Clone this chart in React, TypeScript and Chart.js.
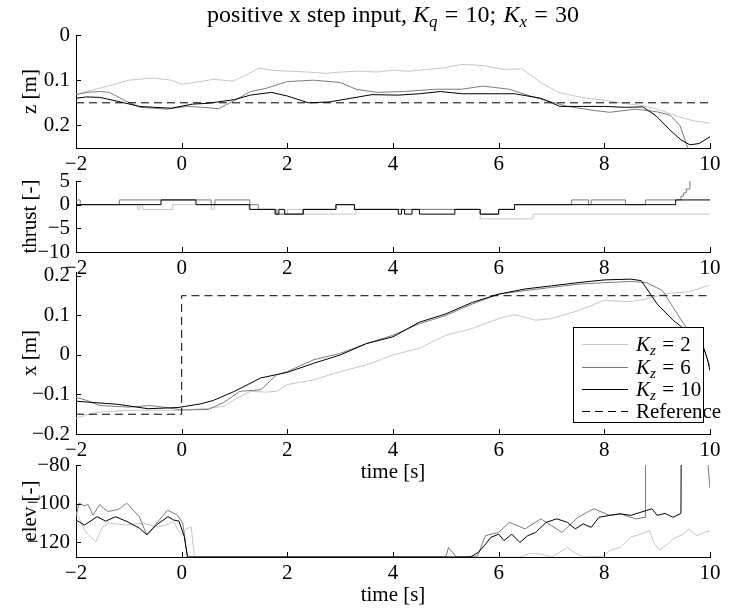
import React, { useEffect, useRef } from "react";
import { Chart, registerables } from "chart.js";

Chart.register(...registerables);

// ---------------- text / labels ----------------
const TITLE = "positive x step input, K_q = 10; K_x = 30";
const SERIES_LABELS = ["K_z = 2", "K_z = 6", "K_z = 10", "Reference"];
const X_TITLE = "time [s]";
const Y_TITLES = ["z [m]", "thrust [-]", "x [m]", "elev [-]"];

// ---------------- ticks ----------------
const X_TICKS = [-2, 0, 2, 4, 6, 8, 10];
const Z_TICKS = [0, 0.1, 0.2];
const TH_TICKS = [-10, -5, 0, 5];
const XP_TICKS = [-0.2, -0.1, 0, 0.1, 0.2];
const EL_TICKS = [-120, -100, -80];

// ---------------- z [m] ----------------
const Z_REF_T = [-2, 10];
const Z_REF_V = [0.15, 0.15];
const Z_K2_T = [-2, -1.7, -1.3, -1, -0.55, -0.2, 0, 0.3, 0.6, 0.97, 1.2, 1.46, 1.7, 2.03, 2.4, 2.74, 3.0, 3.36, 3.7, 4.0, 4.3, 4.68, 5.0, 5.3, 5.5, 5.73, 6.08, 6.44, 6.6, 6.79, 7.14, 7.4, 7.67, 8.03, 8.4, 8.73, 9.08, 9.43, 9.7, 10];
const Z_K2_V = [0.131, 0.122, 0.11, 0.1, 0.095, 0.1, 0.109, 0.104, 0.098, 0.102, 0.09, 0.073, 0.078, 0.08, 0.082, 0.085, 0.082, 0.08, 0.082, 0.078, 0.08, 0.076, 0.072, 0.065, 0.066, 0.068, 0.076, 0.075, 0.088, 0.105, 0.127, 0.134, 0.14, 0.145, 0.152, 0.156, 0.167, 0.182, 0.19, 0.195];
const Z_K6_T = [-2, -1.8, -1.55, -1.37, -1.04, -0.79, -0.28, 0.1, 0.4, 0.7, 1.0, 1.3, 1.6, 2.0, 2.5, 3.0, 3.3, 3.7, 4.2, 4.8, 5.3, 5.7, 6.2, 6.6, 7.0, 7.3, 7.8, 8.1, 8.6, 9.0, 9.24, 9.43, 9.58, 9.7];
const Z_K6_V = [0.132, 0.127, 0.125, 0.127, 0.147, 0.16, 0.164, 0.158, 0.16, 0.163, 0.145, 0.125, 0.118, 0.103, 0.1, 0.105, 0.12, 0.127, 0.125, 0.12, 0.12, 0.113, 0.12, 0.135, 0.148, 0.158, 0.167, 0.171, 0.164, 0.17, 0.177, 0.2, 0.25, 0.28];
const Z_K10_T = [-2, -1.8, -1.55, -1.2, -0.8, -0.2, 0.2, 0.5, 1.0, 1.3, 1.7, 2.0, 2.4, 2.8, 3.2, 3.6, 4.1, 4.5, 4.9, 5.3, 5.8, 6.3, 6.8, 7.16, 7.6, 8.0, 8.4, 8.73, 8.99, 9.24, 9.45, 9.62, 9.8, 10];
const Z_K10_V = [0.14, 0.137, 0.138, 0.147, 0.158, 0.162, 0.153, 0.151, 0.143, 0.133, 0.127, 0.135, 0.15, 0.148, 0.14, 0.132, 0.133, 0.13, 0.125, 0.13, 0.13, 0.13, 0.14, 0.158, 0.158, 0.158, 0.16, 0.159, 0.18, 0.21, 0.232, 0.243, 0.24, 0.225];

// ---------------- thrust [-] (step changes) ----------------
const TH_K2_T = [-2, -0.83, -0.79, -0.74, -0.17, 0.56, 0.62, 1.27, 1.75, 2.0, 2.3, 3.3, 5.65, 6.65, 10];
const TH_K2_V = [0, -1, 0, -1, 0, -1, 0, -1, -2, -1, -2, -1, -3, -2, -2];
const TH_K6_T = [-2, -1.92, -1.18, 0.56, 0.63, 1.29, 1.45, 1.8, 2.3, 2.92, 3.27, 5.65, 6.0, 6.3, 7.38, 7.7, 7.75, 8.4, 8.78, 9.38, 9.45, 9.5, 9.55, 9.62, 9.7];
const TH_K6_V = [1, 0, 1, 0, 1, 0, -1, -2, -1, 0, -1, -2, -1, 0, 1, 0, 1, 0, 1, 1, 1.8, 2.5, 3.3, 5.2, 8];
const TH_K10_T = [-2, -0.39, 0.27, 1.29, 1.77, 1.84, 1.95, 2.3, 2.92, 3.27, 4.1, 4.16, 4.22, 4.36, 4.5, 5.17, 5.65, 6.0, 6.3, 9.35, 10];
const TH_K10_V = [0, 1, 0, -1, -2, -1, -2, -1, 0, -1, -2, -1, -2, -1, -2, -1, -2, -1, 0, 1, 1];

// ---------------- x [m] ----------------
const X_REF_T = [-2, 0, 0, 10];
const X_REF_V = [-0.15, -0.15, 0.15, 0.15];
const X_K2_T = [-2, -1.7, -1.5, -1, -0.5, 0, 0.5, 0.8, 1.0, 1.3, 1.6, 1.8, 2.0, 2.5, 3.0, 3.5, 4.0, 4.5, 5.0, 5.5, 6.0, 6.3, 6.7, 7.0, 7.5, 8.0, 8.5, 8.8, 9.2, 9.6, 10];
const X_K2_V = [-0.16, -0.148, -0.144, -0.14, -0.14, -0.14, -0.135, -0.13, -0.113, -0.092, -0.094, -0.092, -0.075, -0.063, -0.042, -0.025, 0, 0.017, 0.05, 0.067, 0.092, 0.102, 0.088, 0.092, 0.112, 0.138, 0.135, 0.142, 0.156, 0.16, 0.177];
const X_K6_T = [-2, -1.8, -1.55, -1, -0.6, -0.3, 0, 0.5, 0.8, 1.1, 1.5, 1.8, 2.0, 2.5, 3.0, 3.5, 4.0, 4.5, 5.0, 5.5, 6.0, 6.5, 7.0, 7.5, 8.0, 8.5, 8.8, 9.1, 9.3, 9.5, 9.6, 9.8, 9.9, 10];
const X_K6_V = [-0.107, -0.115, -0.128, -0.132, -0.128, -0.133, -0.139, -0.138, -0.12, -0.092, -0.088, -0.05, -0.042, -0.012, 0.004, 0.029, 0.05, 0.079, 0.1, 0.129, 0.154, 0.163, 0.171, 0.179, 0.183, 0.186, 0.183, 0.163, 0.121, 0.079, 0.062, 0.04, 0.01, -0.03];
const X_K10_T = [-2, -1.2, -0.64, -0.07, 0.35, 0.6, 1.0, 1.5, 2.0, 2.5, 3.0, 3.5, 4.0, 4.5, 5.0, 5.5, 6.0, 6.5, 7.0, 7.5, 8.0, 8.5, 8.7, 9.0, 9.3, 9.5, 9.7, 9.85, 9.95, 10];
const X_K10_V = [-0.117, -0.125, -0.136, -0.133, -0.124, -0.115, -0.092, -0.058, -0.044, -0.021, 0, 0.029, 0.046, 0.083, 0.104, 0.133, 0.154, 0.167, 0.175, 0.183, 0.19, 0.192, 0.188, 0.129, 0.088, 0.067, 0.045, 0.03, -0.01, -0.04];

// ---------------- elev [-] ----------------
const EL_K2_T = [-2, -1.81, -1.62, -1.5, -1.37, -1.04, -0.73, -0.48, -0.29, -0.16, -0.06, 0.0, 0.09, 0.18, 0.24, 6.4, 6.6, 6.8, 7.0, 7.3, 7.45, 7.6, 8.0, 8.1, 8.3, 8.5, 8.7, 8.85, 8.95, 9.05, 9.2, 9.3, 9.5, 9.6, 9.75, 9.9, 10];
const EL_K2_V = [-104, -115, -119.6, -112, -110, -111, -110, -112, -111, -109, -114, -116, -113, -112, -127.5, -127.5, -125.7, -126, -127.5, -122.6, -125.5, -127.5, -127, -124, -122.6, -117.3, -115.6, -113.9, -120.7, -124, -120.7, -118.2, -115.6, -113, -116.5, -114.8, -113.9];
const EL_K6_T = [-2, -1.94, -1.85, -1.77, -1.68, -1.55, -1.4, -1.2, -1.04, -0.8, -0.66, -0.5, -0.27, -0.08, 0.02, 0.11, 5.0, 5.05, 5.2, 5.6, 5.75, 6.0, 6.2, 6.5, 6.8, 7.0, 7.2, 7.5, 7.8, 8.1, 8.3, 8.5, 8.6, 8.77, 8.78, 9.9, 10];
const EL_K6_V = [-106.7, -99.7, -101, -100.5, -105.8, -100.5, -104, -103, -99.7, -106.7, -116.2, -111, -103.3, -105.9, -110, -127.5, -127.5, -122.6, -127.5, -127, -116.5, -114.8, -109.6, -113, -107.8, -111.3, -114.8, -107, -102.6, -106, -105.2, -107, -107.8, -107, -40, -60, -92];
const EL_K10_T = [-2, -1.84, -1.6, -1.44, -1.25, -1.05, -0.8, -0.66, -0.48, -0.26, -0.15, -0.05, 0.05, 0.11, 5.47, 5.62, 5.75, 5.85, 6.0, 6.1, 6.25, 6.4, 6.55, 6.7, 6.9, 7.1, 7.3, 7.45, 7.6, 7.75, 7.9, 8.1, 8.3, 8.5, 8.7, 8.9, 9.0, 9.15, 9.3, 9.45, 9.46];
const EL_K10_V = [-108.4, -111, -106.7, -109, -106.7, -109, -112.6, -116, -111, -106.7, -108.4, -109, -117, -127.5, -127.5, -125, -121, -117.4, -115.7, -119, -115.7, -120, -116.5, -114.8, -109.6, -107.8, -109.6, -113, -110.4, -112.2, -107, -106, -105.2, -106, -104.3, -102.6, -106, -105, -107, -105, -40];

// ---------------- styles ----------------
const FAMILY = "'Liberation Serif', 'Times New Roman', serif";
const FS = 21;
const TITLE_FS = 24;
const LIGHT = "#c6c6c6";
const MID = "#7c7c7c";
const DARK = "#000000";
const W = 731;
const PLOT_LEFT = 76;
const PLOT_RIGHT = 710;

const fmt = (v: number) => String(v).replace("-", "\u2212");
const pts = (T: number[], V: number[]) => T.map((t, i) => ({ x: t, y: V[i] }));

function drawRich(ctx: CanvasRenderingContext2D, text: string, x: number, y: number, align: "left" | "center", fs: number) {
  const roman = `${fs}px ${FAMILY}`;
  const italic = `italic ${fs}px ${FAMILY}`;
  const sub = `italic ${Math.round(fs * 0.7)}px ${FAMILY}`;
  type Part = { t: string; f: string; dy: number; w: number };
  const parts: Part[] = [];
  const re = /([A-Za-z])_([A-Za-z])/g;
  let last = 0;
  let inMath = false;
  let m: RegExpExecArray | null;
  const pushRoman = (s: string) => {
    if (!inMath) {
      parts.push({ t: s, f: roman, dy: 0, w: 0 });
      return;
    }
    // math mode: wider spaces around relations
    for (const ch of s) parts.push({ t: ch, f: roman, dy: 0, w: ch === " " ? fs * 0.3 : 0 });
  };
  while ((m = re.exec(text))) {
    if (m.index > last) pushRoman(text.slice(last, m.index));
    inMath = true;
    parts.push({ t: m[1], f: italic, dy: 0, w: 0 });
    parts.push({ t: m[2], f: sub, dy: Math.round(fs * 0.2), w: 0 });
    last = m.index + m[0].length;
  }
  if (last < text.length) pushRoman(text.slice(last));
  ctx.save();
  ctx.textBaseline = "alphabetic";
  ctx.textAlign = "left";
  ctx.fillStyle = "#000";
  let total = 0;
  parts.forEach((p) => {
    ctx.font = p.f;
    if (!p.w) p.w = ctx.measureText(p.t).width;
    total += p.w;
  });
  let cx = align === "center" ? x - total / 2 : x;
  parts.forEach((p) => {
    ctx.font = p.f;
    if (p.t !== " ") ctx.fillText(p.t, cx, y + p.dy);
    cx += p.w;
  });
  ctx.restore();
}

const inwardTicks = {
  id: "inwardTicks",
  afterDraw(chart: any) {
    const ctx = chart.ctx;
    const { left, bottom } = chart.chartArea;
    const xs = chart.scales.x;
    const ys = chart.scales.y;
    ctx.save();
    ctx.strokeStyle = "#000";
    ctx.lineWidth = 1;
    ctx.beginPath();
    xs.ticks.forEach((t: any) => {
      const p = Math.round(xs.getPixelForValue(t.value)) + 0.5;
      ctx.moveTo(p, Math.round(bottom));
      ctx.lineTo(p, Math.round(bottom) - 5);
    });
    ys.ticks.forEach((t: any) => {
      const p = Math.round(ys.getPixelForValue(t.value)) + 0.5;
      ctx.moveTo(Math.round(left), p);
      ctx.lineTo(Math.round(left) + 5, p);
    });
    ctx.stroke();
    ctx.restore();
  },
};

const titlePlugin = {
  id: "richTitle",
  afterDraw(chart: any) {
    const { left, right } = chart.chartArea;
    drawRich(chart.ctx, TITLE, (left + right) / 2, 22, "center", TITLE_FS);
  },
};

function legendPlugin(canvasTop: number) {
  return {
    id: "richLegend",
    afterDatasetsDraw(chart: any) {
      const ctx = chart.ctx;
      const bx = 573, by = 327 - canvasTop, bw = 130, bh = 95;
      ctx.save();
      ctx.fillStyle = "#fff";
      ctx.fillRect(bx, by, bw, bh);
      ctx.strokeStyle = "#000";
      ctx.lineWidth = 1;
      ctx.strokeRect(bx + 0.5, by + 0.5, bw, bh);
      const rows = [344, 366.5, 389, 411];
      chart.data.datasets.forEach((ds: any, i: number) => {
        const cy = rows[i] - canvasTop;
        ctx.save();
        ctx.strokeStyle = ds.borderColor;
        ctx.lineWidth = 1;
        ctx.setLineDash(ds.borderDash || []);
        ctx.beginPath();
        ctx.moveTo(582, Math.round(cy) + 0.5);
        ctx.lineTo(628, Math.round(cy) + 0.5);
        ctx.stroke();
        ctx.restore();
        drawRich(ctx, ds.label, 636, cy + 7, "left", FS);
      });
      ctx.restore();
    },
  };
}

function line(label: string, T: number[], V: number[], color: string, order: number, extra: any = {}) {
  return {
    label,
    data: pts(T, V),
    borderColor: color,
    backgroundColor: color,
    borderWidth: 1,
    pointRadius: 0,
    tension: 0,
    fill: false,
    order,
    ...extra,
  };
}

const DASH = [8, 5];

const PANELS = [
  {
    top: 35, bottom: 148, cTop: 0, cBottom: 200, min: 0, max: 0.25, reverse: true,
    yTicks: Z_TICKS, yTitle: Y_TITLES[0], xTitle: false, xTitlePad: 1, title: true, legend: false,
    datasets: [
      line(SERIES_LABELS[0], Z_K2_T, Z_K2_V, LIGHT, 3),
      line(SERIES_LABELS[1], Z_K6_T, Z_K6_V, MID, 2),
      line(SERIES_LABELS[2], Z_K10_T, Z_K10_V, DARK, 1),
      line(SERIES_LABELS[3], Z_REF_T, Z_REF_V, DARK, 0, { borderDash: DASH }),
    ],
  },
  {
    top: 181, bottom: 252, cTop: 150, cBottom: 304, min: -10, max: 5, reverse: false,
    yTicks: TH_TICKS, yTitle: Y_TITLES[1], xTitle: false, xTitlePad: 1, title: false, legend: false,
    datasets: [
      line(SERIES_LABELS[0], TH_K2_T, TH_K2_V, LIGHT, 3, { stepped: true }),
      line(SERIES_LABELS[1], TH_K6_T, TH_K6_V, MID, 2, { stepped: true }),
      line(SERIES_LABELS[2], TH_K10_T, TH_K10_V, DARK, 1, { stepped: true }),
    ],
  },
  {
    top: 272, bottom: 434, cTop: 240, cBottom: 486, min: -0.2, max: 0.21, reverse: false,
    yTicks: XP_TICKS, yTitle: Y_TITLES[2], xTitle: true, xTitlePad: 1.4, title: false, legend: true,
    datasets: [
      line(SERIES_LABELS[0], X_K2_T, X_K2_V, LIGHT, 3),
      line(SERIES_LABELS[1], X_K6_T, X_K6_V, MID, 2),
      line(SERIES_LABELS[2], X_K10_T, X_K10_V, DARK, 1),
      line(SERIES_LABELS[3], X_REF_T, X_REF_V, DARK, 0, { borderDash: DASH }),
    ],
  },
  {
    top: 465, bottom: 557, cTop: 435, cBottom: 608, min: -127.5, max: -80, reverse: false,
    yTicks: EL_TICKS, yTitle: Y_TITLES[3], xTitle: true, xTitlePad: 0.4, title: false, legend: false,
    datasets: [
      line(SERIES_LABELS[0], EL_K2_T, EL_K2_V, LIGHT, 3),
      line(SERIES_LABELS[1], EL_K6_T, EL_K6_V, MID, 2),
      line(SERIES_LABELS[2], EL_K10_T, EL_K10_V, DARK, 1),
    ],
  },
];

function makeConfig(p: any): any {
  const xHeight = p.cBottom - p.bottom;
  const plugins: any[] = [inwardTicks];
  if (p.title) plugins.push(titlePlugin);
  if (p.legend) plugins.push(legendPlugin(p.cTop));
  return {
    type: "line",
    data: { datasets: p.datasets },
    plugins,
    options: {
      animation: false,
      responsive: false,
      devicePixelRatio: 1,
      events: [],
      layout: { padding: { top: p.top - p.cTop, left: 0, right: W - PLOT_RIGHT, bottom: 0 } },
      plugins: { legend: { display: false }, tooltip: { enabled: false }, title: { display: false } },
      scales: {
        x: {
          type: "linear",
          position: "bottom",
          min: -2,
          max: 10,
          grid: { display: false, drawTicks: false },
          border: { display: true, color: "#000", width: 1 },
          ticks: {
            autoSkip: false,
            maxRotation: 0,
            minRotation: 0,
            padding: 3.5,
            color: "#000",
            font: { family: FAMILY, size: FS },
            callback: (v: number) => fmt(v),
          },
          title: {
            display: p.xTitle,
            text: X_TITLE,
            color: "#000",
            font: { family: FAMILY, size: FS },
            padding: { top: 0, bottom: p.xTitlePad },
          },
          afterBuildTicks: (s: any) => {
            s.ticks = X_TICKS.map((v) => ({ value: v }));
          },
          afterFit: (s: any) => {
            s.height = xHeight;
            s.paddingLeft = 0;
            s.paddingRight = 0;
          },
        },
        y: {
          type: "linear",
          position: "left",
          min: p.min,
          max: p.max,
          reverse: p.reverse,
          grid: { display: false, drawTicks: false },
          border: { display: true, color: "#000", width: 1 },
          ticks: {
            autoSkip: false,
            padding: 6,
            color: "#000",
            font: { family: FAMILY, size: FS },
            callback: (v: number) => fmt(v),
          },
          title: {
            display: true,
            text: p.yTitle,
            color: "#000",
            font: { family: FAMILY, size: FS },
            padding: { top: 18, bottom: 0 },
          },
          afterBuildTicks: (s: any) => {
            s.ticks = p.yTicks.map((v: number) => ({ value: v }));
          },
          afterFit: (s: any) => {
            s.width = PLOT_LEFT;
            s.paddingTop = 0;
            s.paddingBottom = 0;
          },
        },
      },
    },
  };
}

export default function App() {
  const refs = useRef<(HTMLCanvasElement | null)[]>([]);
  useEffect(() => {
    const charts = PANELS.map((p, i) => new Chart(refs.current[i] as HTMLCanvasElement, makeConfig(p)));
    return () => charts.forEach((c) => c.destroy());
  }, []);
  return (
    <div style={{ position: "fixed", left: 0, top: 0, width: W, height: 608, background: "#fff", overflow: "hidden" }}>
      {PANELS.map((p, i) => (
        <canvas
          key={i}
          ref={(el) => {
            refs.current[i] = el;
          }}
          width={W}
          height={p.cBottom - p.cTop}
          style={{ position: "absolute", left: 0, top: p.cTop, width: W, height: p.cBottom - p.cTop }}
        />
      ))}
    </div>
  );
}
